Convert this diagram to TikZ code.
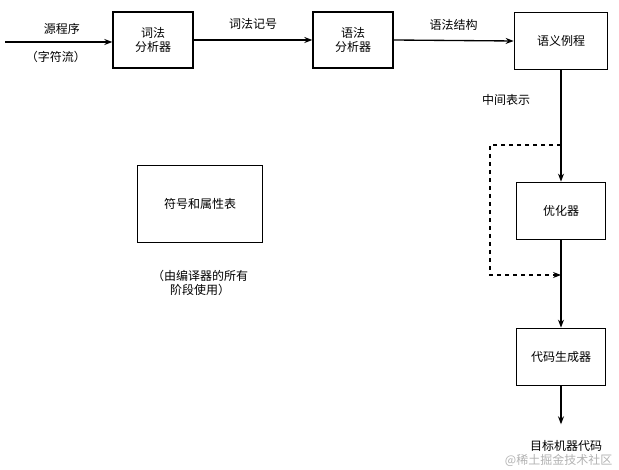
\documentclass[tikz,border=0pt]{standalone}
\usepackage{fontspec}
\setmainfont{Noto Sans CJK SC}
\usetikzlibrary{arrows.meta}
\begin{document}
\begin{tikzpicture}[x=0.75pt,y=-0.75pt,
  box/.style={draw,line width=1pt,minimum width=60pt,minimum height=42pt,align=center,font=\small,inner sep=1pt},
  lbl/.style={font=\small,align=center},
  arr/.style={-{Stealth[length=6pt]},line width=1pt}]
\useasboundingbox (0,0) rectangle (619,470);
\node[box] (lex) at (153,40) {词法\\分析器};
\node[box] (syn) at (353,40) {语法\\分析器};
\node[box,minimum width=70pt,minimum height=43pt] (sem) at (561,41) {语义例程};
\node[box,minimum width=67pt,minimum height=43pt] (opt) at (561,211) {优化器};
\node[box,minimum width=67pt,minimum height=43pt] (gen) at (561,357) {代码生成器};
\node[box,minimum width=94pt,minimum height=58pt] (tab) at (200,204) {符号和属性表};
\node[lbl] (src) at (62,29) {源程序};
\node[lbl] (src2) at (56,57) {（字符流）};
\coordinate (s0) at (5,42);
\draw[arr] (s0) -- (lex.west|-s0);
\draw[arr] (lex.east) -- node[lbl,above=4pt]{词法记号} (syn.west);
\draw[arr] (syn.east) -- node[lbl,above=4pt]{语法结构} (sem.west);
\draw[arr] (sem.south) -- (opt.north);
\node[lbl] (mid) at (506,100) {中间表示};
\draw[arr] (opt.south) -- (gen.north);
\node[lbl] (tgt) at (566,446) {目标机器代码};
\draw[arr] (gen.south) -- ++(0,38) coordinate (e);
\coordinate (d1) at (561,145);
\coordinate (d2) at (561,275);
\draw[dashed,line width=0.8pt,-{Stealth[length=6pt]}] (d1) -- (490,145) -- (490,275) -- (d2);
\node[lbl] (note) at (200,283) {（由编译器的所有\\阶段使用）};
\node[font=\small,text=gray!60,anchor=east] (wm) at (617,460) {@稀土掘金技术社区};
\end{tikzpicture}
\end{document}
